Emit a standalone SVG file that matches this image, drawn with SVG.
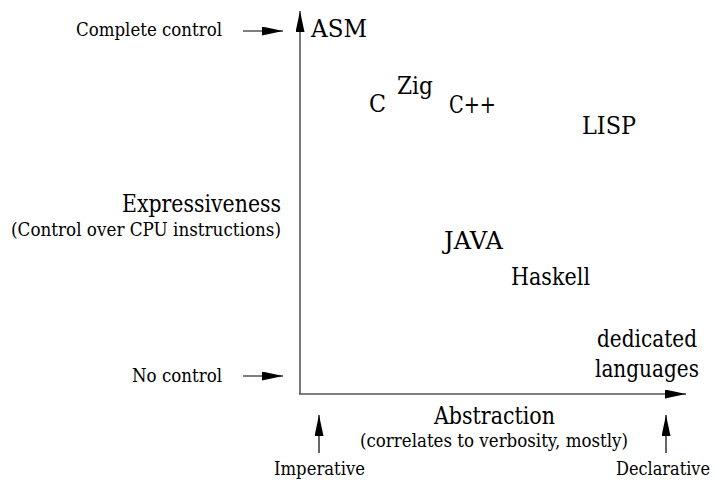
<svg xmlns="http://www.w3.org/2000/svg" width="716" height="483" viewBox="0 0 716 483">
<style>
text{fill:#000;font-family:"DejaVu Serif","Liberation Serif",serif}
.s{font-size:19px}
.l{font-size:23.5px}
.ax{stroke:#555;stroke-width:1.6;fill:none}
.ar{stroke:#000;stroke-width:1.2;fill:none}
</style>
<defs>
<marker id="h" markerUnits="userSpaceOnUse" markerWidth="21" markerHeight="10" refX="21" refY="4.5" orient="auto">
<path d="M0,0 L21,4.5 L0,9 Z" fill="#000"/>
</marker>
</defs>
<rect width="716" height="483" fill="#fff"/>
<g id="connectors">
<line class="ax" x1="300" y1="394" x2="300" y2="11" marker-end="url(#h)"/>
<line class="ax" x1="299" y1="394" x2="686" y2="394" marker-end="url(#h)"/>
<line class="ar" x1="243" y1="31" x2="283" y2="31" marker-end="url(#h)"/>
<line class="ar" x1="243" y1="376" x2="283" y2="376" marker-end="url(#h)"/>
<line class="ar" x1="319" y1="453" x2="319" y2="415" marker-end="url(#h)"/>
<line class="ar" x1="666" y1="453" x2="666" y2="415" marker-end="url(#h)"/>
</g>
<g id="complete-control"><text class="s" x="222" y="36" text-anchor="end" textLength="146" lengthAdjust="spacingAndGlyphs">Complete control</text></g>
<g id="no-control"><text class="s" x="222" y="382" text-anchor="end" textLength="90" lengthAdjust="spacingAndGlyphs">No control</text></g>
<g id="y-label">
<text class="l" x="281" y="212" text-anchor="end" textLength="159" lengthAdjust="spacingAndGlyphs">Expressiveness</text>
<text class="s" x="281" y="236" text-anchor="end" textLength="270" lengthAdjust="spacingAndGlyphs">(Control over CPU instructions)</text>
</g>
<g id="x-label">
<text class="l" x="434" y="424" textLength="121" lengthAdjust="spacingAndGlyphs">Abstraction</text>
<text class="s" x="360" y="447" textLength="268" lengthAdjust="spacingAndGlyphs">(correlates to verbosity, mostly)</text>
</g>
<g id="imperative"><text class="s" x="274" y="475" textLength="91" lengthAdjust="spacingAndGlyphs">Imperative</text></g>
<g id="declarative"><text class="s" x="710" y="475" text-anchor="end" textLength="94" lengthAdjust="spacingAndGlyphs">Declarative</text></g>
<g id="asm"><text class="l" x="311" y="37" textLength="56" lengthAdjust="spacingAndGlyphs">ASM</text></g>
<g id="c"><text class="l" x="369" y="112" textLength="17" lengthAdjust="spacingAndGlyphs">C</text></g>
<g id="zig"><text class="l" x="397" y="94" textLength="36" lengthAdjust="spacingAndGlyphs">Zig</text></g>
<g id="cpp"><text class="l" x="449" y="113" textLength="47" lengthAdjust="spacingAndGlyphs">C++</text></g>
<g id="lisp"><text class="l" x="582" y="134" textLength="54" lengthAdjust="spacingAndGlyphs">LISP</text></g>
<g id="java"><text class="l" x="444" y="249" textLength="59" lengthAdjust="spacingAndGlyphs">JAVA</text></g>
<g id="haskell"><text class="l" x="511" y="285" textLength="79" lengthAdjust="spacingAndGlyphs">Haskell</text></g>
<g id="dedicated">
<text class="l" x="697" y="347" text-anchor="end" textLength="100" lengthAdjust="spacingAndGlyphs">dedicated</text>
<text class="l" x="699" y="377" text-anchor="end" textLength="104" lengthAdjust="spacingAndGlyphs">languages</text>
</g>
</svg>
